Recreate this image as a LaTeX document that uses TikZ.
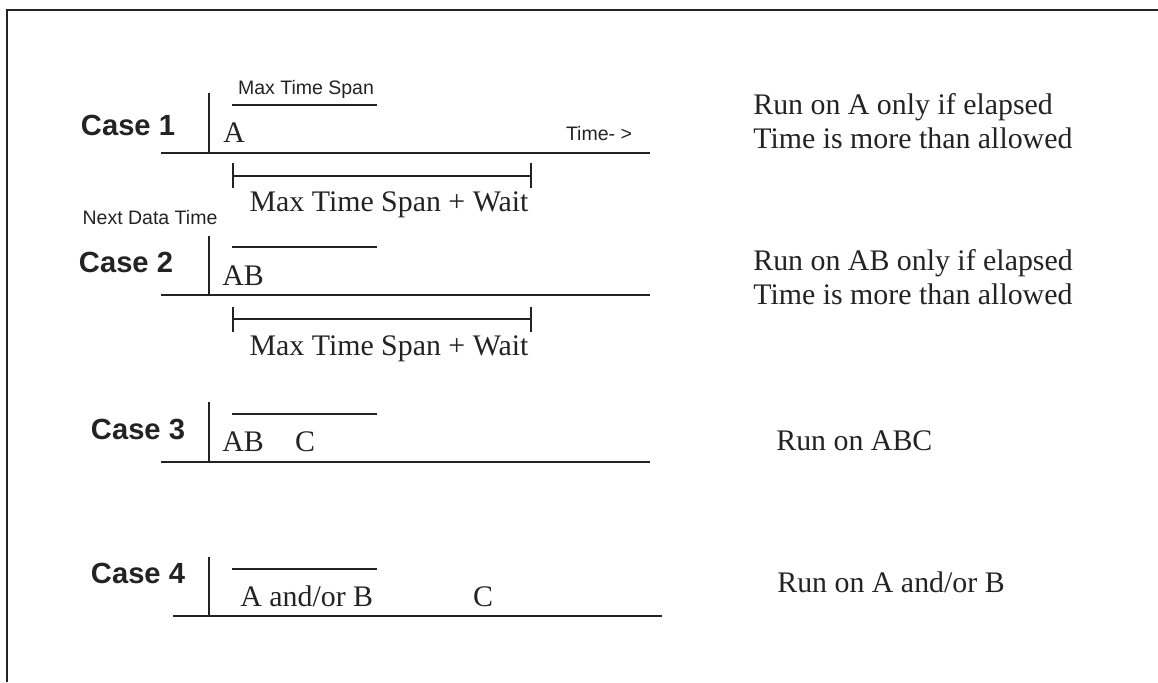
\documentclass[tikz,border=0pt]{standalone}
\usepackage{fontspec}
\setmainfont{Liberation Serif}
\setsansfont{Liberation Sans}
\usetikzlibrary{positioning}
\definecolor{inkGray}{RGB}{35,35,35}

\begin{document}
\begin{tikzpicture}[x=0.02cm,y=-0.02cm,
  caselbl/.style={font=\sffamily\bfseries\fontsize{16.6}{19}\selectfont,
                  anchor=base,inner sep=0pt,text=inkGray},
  note/.style={font=\sffamily\fontsize{11.1}{13}\selectfont,
               anchor=base,inner sep=0pt,text=inkGray},
  lbl/.style={font=\fontsize{17}{19.6}\selectfont,anchor=base west,
              inner sep=0pt,text=inkGray},
  axis/.style={line width=1.25pt,draw=inkGray}
]
  \useasboundingbox (0,0) rectangle (1158,682);
  \draw[line width=1.6pt,draw=inkGray] (7,682) -- (7,10) -- (1158,10);

  % case 1
  \node[caselbl](case1) at (128,136) {Case 1};
  \draw[axis] (209,93) -- (209,153);
  \draw[axis] (161,153) -- (650,153);
  \draw[axis] (232,105) -- (377,105);
  \node[note](span1) at (306,95) {Max Time Span};
  \node[lbl](a1) at (223,143) {A};
  \node[note](time1) at (599,141) {Time- >};
  \draw[axis] (233,163) -- (233,188) (233,176) -- (531,176) (531,163) -- (531,188);
  \node[lbl,anchor=base](wait1) at (389,212) {Max Time Span + Wait};
  \node[note](next) at (150,224) {Next Data Time};

  % case 2
  \node[caselbl](case2) at (126,272) {Case 2};
  \draw[axis] (209,236) -- (209,295);
  \draw[axis] (161,295) -- (650,295);
  \draw[axis] (232,247) -- (377,247);
  \node[lbl](ab2) at (222,285) {AB};
  \draw[axis] (233,307) -- (233,332) (233,319) -- (531,319) (531,307) -- (531,332);
  \node[lbl,anchor=base](wait2) at (389,355) {Max Time Span + Wait};

  % case 3
  \node[caselbl](case3) at (138,439) {Case 3};
  \draw[axis] (209,402) -- (209,462);
  \draw[axis] (161,462) -- (650,462);
  \draw[axis] (232,414) -- (377,414);
  \node[lbl](ab3) at (222,451) {AB};
  \node[lbl,anchor=base](c3) at (305,451) {C};

  % case 4
  \node[caselbl](case4) at (138,583) {Case 4};
  \draw[axis] (209,557) -- (209,616);
  \draw[axis] (173,616) -- (662,616);
  \draw[axis] (232,569) -- (377,569);
  \node[lbl](ab4) at (240,606) {A and/or B};
  \node[lbl,anchor=base](c4) at (483,606) {C};

  % outcomes
  \node[lbl](run1) at (753,115) {Run on A only if elapsed};
  \node[lbl](run1b) at (753,149) {Time is more than allowed};
  \node[lbl](run2) at (753,270) {Run on AB only if elapsed};
  \node[lbl](run2b) at (753,304) {Time is more than allowed};
  \node[lbl](run3) at (776,450) {Run on ABC};
  \node[lbl](run4) at (777,592) {Run on A and/or B};
\end{tikzpicture}
\end{document}
